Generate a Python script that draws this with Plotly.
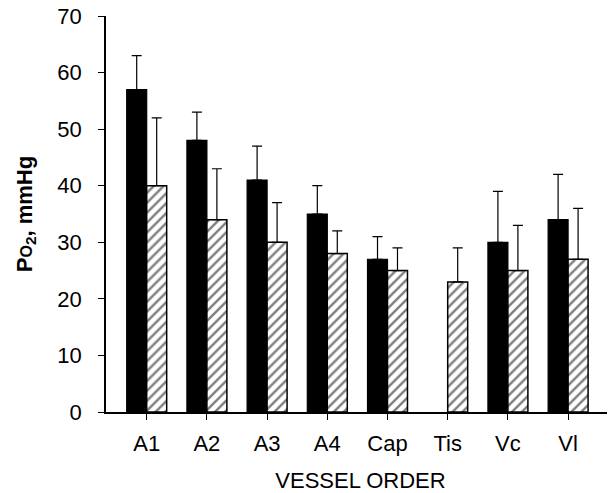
import plotly.graph_objects as go

categories = ["A1", "A2", "A3", "A4", "Cap", "Tis", "Vc", "Vl"]
control_vals = [57, 48, 41, 35, 27, None, 30, 34]
control_err_top = [63, 53, 47, 40, 31, None, 39, 42]
hatched_vals = [40, 34, 30, 28, 25, 23, 25, 27]
hatched_err_top = [52, 43, 37, 32, 29, 29, 33, 36]
y_ticks = [0, 10, 20, 30, 40, 50, 60, 70]

def plus(vals, tops):
    return [None if v is None else t - v for v, t in zip(vals, tops)]

FONT = "Liberation Sans, Arial, Helvetica, sans-serif"

fig = go.Figure()
fig.add_trace(go.Bar(
    x=list(range(len(categories))), y=control_vals,
    marker=dict(color="black", line=dict(color="black", width=1.2)),
    error_y=dict(type="data", symmetric=False, array=plus(control_vals, control_err_top),
                 arrayminus=[0] * len(categories), color="black", thickness=1.2, width=5),
    showlegend=False,
))
fig.add_trace(go.Bar(
    x=list(range(len(categories))), y=hatched_vals,
    marker=dict(color="white", line=dict(color="black", width=1.5),
                pattern=dict(shape="/", fgcolor="black", bgcolor="white", size=7, solidity=0.35)),
    error_y=dict(type="data", symmetric=False, array=plus(hatched_vals, hatched_err_top),
                 arrayminus=[0] * len(categories), color="black", thickness=1.2, width=5),
    showlegend=False,
))

# page body has an 8px default margin; the figure is sized to fit the window
fig.update_layout(
    width=607, height=485,
    margin=dict(l=98, r=0, t=8, b=81),
    paper_bgcolor="white", plot_bgcolor="white",
    barmode="group", bargap=0.336, bargroupgap=0,
    font=dict(family=FONT, size=22, color="black"),
    xaxis=dict(
        range=[-0.676, 7.779],
        tickmode="array", tickvals=list(range(len(categories))), ticktext=categories,
        showline=True, linecolor="black", linewidth=1.5,
        ticks="outside", ticklen=6, tickwidth=1.2, tickcolor="black",
        showgrid=False, zeroline=False, automargin=False,
        ticklabelstandoff=5, ticklabeloverflow="allow",
        title=dict(text="VESSEL ORDER", font=dict(size=22), standoff=18),
    ),
    yaxis=dict(
        range=[0, 70],
        tickmode="array", tickvals=y_ticks,
        showline=True, linecolor="black", linewidth=1.5,
        ticks="outside", ticklen=6, tickwidth=1.2, tickcolor="black",
        showgrid=False, zeroline=False, automargin=False,
        ticklabelstandoff=12, ticklabeloverflow="allow",
        title=dict(text="<b>P<span style='font-size:16px'>O</span><sub>2</sub>, mmHg</b>",
                   font=dict(size=22), standoff=19),
    ),
)

fig.write_html("out.html")
